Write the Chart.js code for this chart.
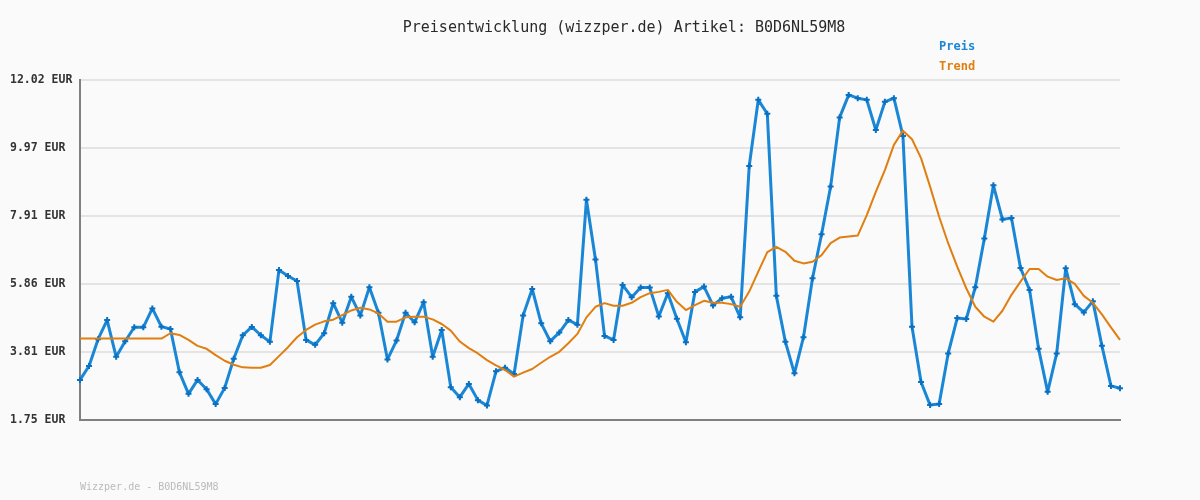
<!DOCTYPE html>
<html>
<head>
<meta charset="utf-8">
<script src="https://cdn.jsdelivr.net/npm/chart.js@4/dist/chart.umd.min.js"></script>
<style>
  html, body { margin: 0; padding: 0; background: #fafafa; }
  #wrap { width: 1200px; height: 500px; position: relative; }
</style>
</head>
<body>
<div id="wrap"><canvas id="preisChart" width="1200" height="500"></canvas></div>
<script>
var titleText = 'Preisentwicklung (wizzper.de) Artikel: B0D6NL59M8';
var footerText = 'Wizzper.de - B0D6NL59M8';
var seriesNames = ['Preis', 'Trend'];
var yTicks = [1.75, 3.81, 5.86, 7.91, 9.97, 12.02];

// Preis, one value per day
var preis = [
    2.96, 3.38, 4.19, 4.77, 3.66, 4.13, 4.55, 4.55, 5.12, 4.57,
    4.50, 3.19, 2.54, 2.96, 2.68, 2.23, 2.72, 3.60, 4.31, 4.56,
    4.31, 4.11, 6.28, 6.10, 5.95, 4.17, 4.02, 4.37, 5.28, 4.69,
    5.47, 4.91, 5.76, 4.99, 3.58, 4.15, 4.99, 4.70, 5.31, 3.66,
    4.47, 2.74, 2.44, 2.84, 2.35, 2.19, 3.22, 3.33, 3.14, 4.91,
    5.71, 4.67, 4.13, 4.39, 4.77, 4.63, 8.40, 6.60, 4.29, 4.17,
    5.83, 5.46, 5.75, 5.75, 4.88, 5.58, 4.81, 4.10, 5.62, 5.78,
    5.21, 5.43, 5.47, 4.85, 9.42, 11.42, 11.00, 5.50, 4.11, 3.16,
    4.25, 6.03, 7.36, 8.80, 10.89, 11.57, 11.47, 11.42, 10.51, 11.36,
    11.47, 10.33, 4.57, 2.90, 2.20, 2.23, 3.76, 4.83, 4.80, 5.76,
    7.23, 8.84, 7.81, 7.85, 6.34, 5.68, 3.90, 2.60, 3.76, 6.33,
    5.25, 5.00, 5.34, 3.99, 2.78, 2.71
];

// Trend line
var trend = [
    4.21, 4.21, 4.21, 4.21, 4.21, 4.21, 4.21, 4.21, 4.21, 4.21,
    4.37, 4.32, 4.17, 3.99, 3.90, 3.71, 3.54, 3.42, 3.34, 3.33,
    3.33, 3.41, 3.68, 3.95, 4.25, 4.47, 4.63, 4.73, 4.78, 4.92,
    5.06, 5.14, 5.09, 4.97, 4.72, 4.72, 4.85, 4.87, 4.87, 4.79,
    4.65, 4.45, 4.12, 3.92, 3.76, 3.56, 3.40, 3.26, 3.06, 3.18,
    3.29, 3.48, 3.66, 3.81, 4.07, 4.35, 4.85, 5.17, 5.28, 5.20,
    5.20, 5.29, 5.46, 5.58, 5.62, 5.68, 5.32, 5.07, 5.22, 5.35,
    5.29, 5.29, 5.25, 5.17, 5.63, 6.23, 6.82, 6.98, 6.83, 6.56,
    6.48, 6.53, 6.73, 7.09, 7.26, 7.29, 7.32, 7.94, 8.64, 9.30,
    10.06, 10.49, 10.23, 9.66, 8.80, 7.89, 7.09, 6.38, 5.73, 5.17,
    4.87, 4.72, 5.05, 5.53, 5.93, 6.31, 6.31, 6.08, 5.98, 6.03,
    5.86, 5.50, 5.29, 4.94, 4.55, 4.17
];

var days = preis.map((v, i) => String(i + 1));

var blau = '#1a86d6';
var orange = '#e07f10';
var mono = '"DejaVu Sans Mono", "Liberation Mono", monospace';

// title, legend and footer as plain canvas text
var textPlugin = {
    id: 'wizzperText',
    afterDraw(chart) {
        const c = chart.ctx;
        c.save();
        c.textBaseline = 'middle';
        c.textAlign = 'center';
        c.fillStyle = '#2a2a2a';
        c.font = '15px ' + mono;
        c.fillText(titleText, 624, 28);

        c.textAlign = 'left';
        c.font = 'bold 12px ' + mono;
        c.fillStyle = blau;
        c.fillText(seriesNames[0], 939, 47);
        c.fillStyle = orange;
        c.fillText(seriesNames[1], 939, 67);

        c.font = '10px ' + mono;
        c.fillStyle = '#bbbbbb';
        c.fillText(footerText, 80, 487);
        c.restore();
    }
};

var bgPlugin = {
    id: 'bg',
    beforeDraw(chart) {
        const c = chart.ctx;
        c.save();
        c.fillStyle = '#fafafa';
        c.fillRect(0, 0, chart.width, chart.height);
        c.restore();
    }
};

var ctx = document.getElementById('preisChart').getContext('2d');
var preisChart = new Chart(ctx, {
    type: 'line',
    data: {
        labels: days,
        datasets: [{
            label: seriesNames[1],
            data: trend,
            borderColor: orange,
            borderWidth: 2,
            borderJoinStyle: 'round',
            pointRadius: 0,
            tension: 0,
            clip: false
        }, {
            label: seriesNames[0],
            data: preis,
            borderColor: blau,
            borderWidth: 3,
            borderJoinStyle: 'round',
            pointStyle: 'cross',
            pointRadius: 3,
            pointBorderWidth: 2,
            pointBorderColor: '#0a70c2',
            tension: 0,
            clip: false
        }]
    },
    options: {
        responsive: false,
        animation: false,
        layout: { padding: { left: 10, top: 80, right: 80, bottom: 80 } },
        plugins: {
            legend: { display: false },
            tooltip: { enabled: false }
        },
        scales: {
            x: {
                offset: false,
                grid: { display: false },
                ticks: { display: false },
                border: { display: true, color: '#808080', width: 2 },
                afterFit: s => { s.height = 0; }
            },
            y: {
                min: yTicks[0],
                max: yTicks[yTicks.length - 1],
                afterBuildTicks: s => { s.ticks = yTicks.map(v => ({ value: v })); },
                afterFit: s => { s.width = 70; },
                grid: { color: '#e4e4e4', lineWidth: 2, drawTicks: false },
                border: { display: true, color: '#808080', width: 2 },
                ticks: {
                    crossAlign: 'far',
                    padding: 0,
                    color: '#333',
                    font: { family: mono, size: 11.5, weight: 'bold' },
                    callback: v => v.toFixed(2) + ' EUR'
                }
            }
        }
    },
    plugins: [bgPlugin, textPlugin]
});
</script>
</body>
</html>
